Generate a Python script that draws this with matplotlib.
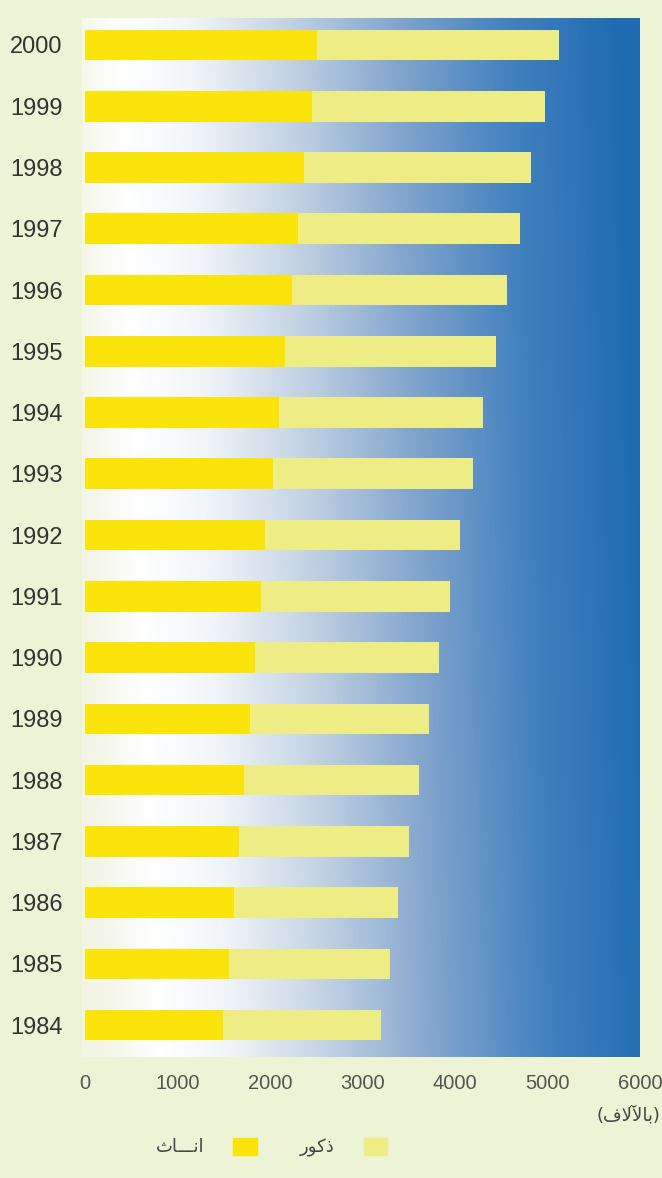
import numpy as np
import matplotlib
matplotlib.use("Agg")
import matplotlib.pyplot as plt
from matplotlib.colors import LinearSegmentedColormap
from matplotlib.patches import Patch

plt.rcParams.update({
    "font.family": ["Liberation Sans", "DejaVu Sans"],
    "axes.spines.top": False,
    "axes.spines.right": False,
    "axes.spines.left": False,
    "axes.spines.bottom": False,
})

# ============================================================
#  DATA (بالآلاف)
# ============================================================
years = [1984, 1985, 1986, 1987, 1988, 1989, 1990, 1991, 1992,
         1993, 1994, 1995, 1996, 1997, 1998, 1999, 2000]
females = [1490, 1560, 1610, 1670, 1720, 1790, 1840, 1900, 1950,
           2030, 2100, 2160, 2240, 2300, 2370, 2450, 2510]
males = [1710, 1740, 1780, 1830, 1890, 1930, 1990, 2050, 2110,
         2160, 2200, 2280, 2320, 2400, 2450, 2520, 2610]
x_ticks = [0, 1000, 2000, 3000, 4000, 5000, 6000]

# Arabic text (presentation forms, visual order)
label_female = "\uFE99\uFE8E\u0640\u0640\u0640\uFEE7\uFE8D"   # انــاث
label_male = "\uFEAD\uFEEE\uFEDB\uFEAB"                        # ذكور
label_unit = "(\uFED1\uFEFB\uFEF5\uFE8E\uFE91)"                # (بالآلاف)

BG = "#edf3d5"
FEMALE = "#fbe40c"
MALE = "#eeec84"

fig = plt.figure(figsize=(6.62, 11.78), dpi=100, facecolor=BG)
ax = fig.add_axes([0.1239, 0.1027, 0.8429, 0.882])

# gradient panel: white at left -> blue at right
grad_cmap = LinearSegmentedColormap.from_list(
    "panel",
    [(0.0, "#f2f5e6"), (0.1, "#ffffff"), (0.22, "#f2f6f9"),
     (0.4, "#c4d3e4"), (0.6, "#82a5cd"), (0.8, "#4381bf"),
     (1.0, "#1f6bb1")],
)
gx, gy = np.meshgrid(np.linspace(0, 1, 400), np.linspace(0, 1, 300))
t = np.clip(gx + 0.07 * (gy - 0.5), 0, 1)
ax.imshow(t, cmap=grad_cmap, extent=[0, 1, 0, 1], origin="lower",
          transform=ax.transAxes, aspect="auto", zorder=0,
          interpolation="bilinear")

pos = np.arange(len(years))
ax.barh(pos, females, height=0.5, color=FEMALE, zorder=2)
ax.barh(pos, males, left=females, height=0.5, color=MALE, zorder=2)

ax.set_xlim(-30, 6000)
ax.set_ylim(-0.52, len(years) - 1 + 0.44)
ax.set_yticks(pos)
ax.set_yticklabels([str(y) for y in years], fontsize=17, color="#333333")
ax.set_xticks(x_ticks)
ax.set_xticklabels([str(v) for v in x_ticks], fontsize=14.5, color="#555555")
ax.tick_params(axis="y", length=0, pad=14)
ax.tick_params(axis="x", length=0, pad=12)

fig.text(0.997, 0.0535, label_unit, fontsize=13, color="#444444",
         ha="right", va="center", family="DejaVu Sans")

handles = [Patch(color=FEMALE), Patch(color=MALE)]
fig.legend(handles, [label_female, label_male], loc="center",
           bbox_to_anchor=(0.41, 0.026), ncol=2, frameon=False,
           markerfirst=False, handlelength=1.3, handleheight=1.1,
           columnspacing=2.4, handletextpad=1.6,
           prop={"family": "DejaVu Sans", "size": 13})
for txt in fig.legends[0].get_texts():
    txt.set_color("#444444")

fig.savefig("out.png", dpi=100, facecolor=BG)
